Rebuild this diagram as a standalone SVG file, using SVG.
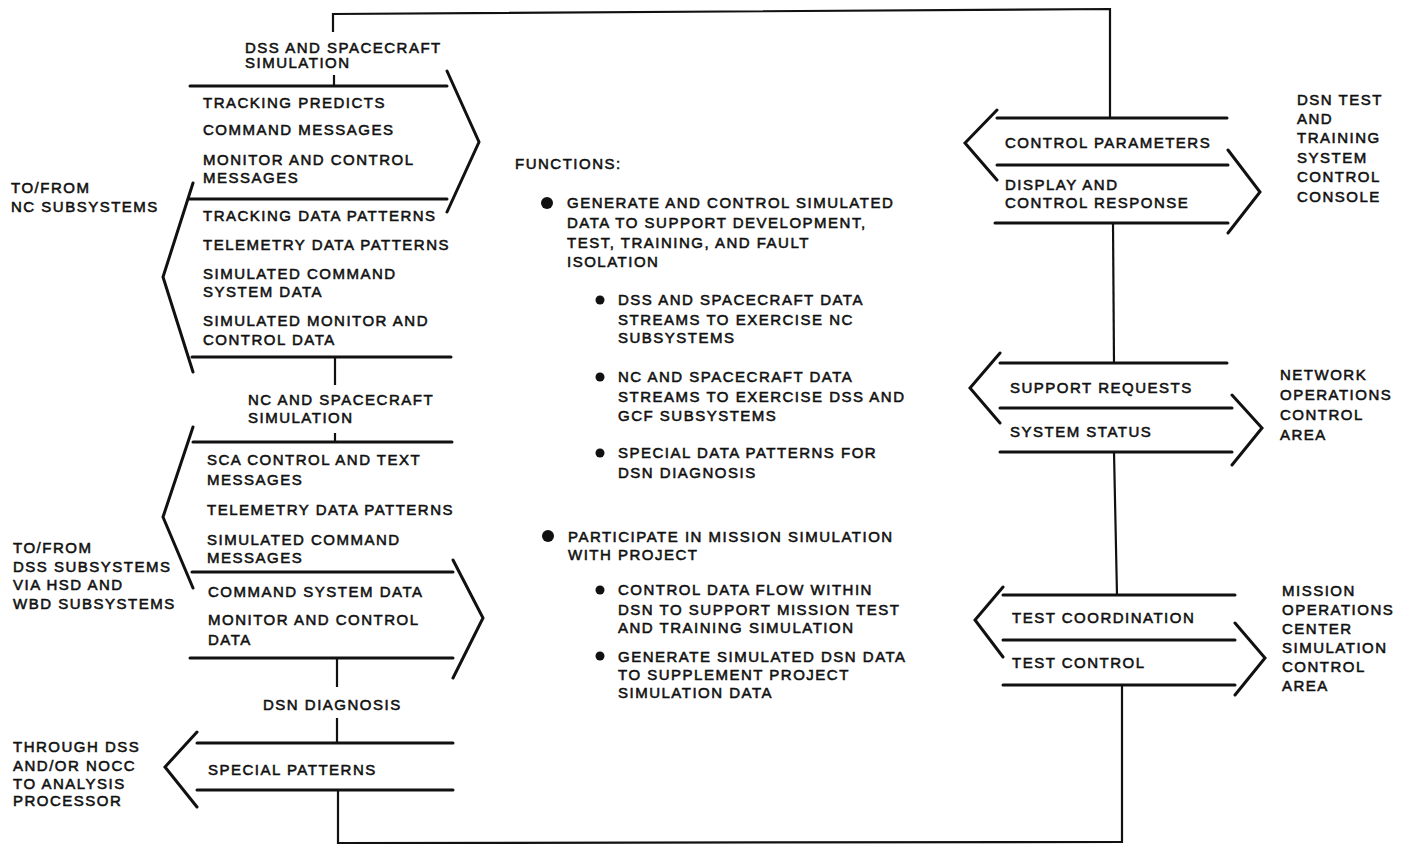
<svg xmlns="http://www.w3.org/2000/svg" width="1413" height="845" viewBox="0 0 1413 845">
<style>
text{font-family:"Liberation Sans",Arial,sans-serif;font-size:15px;letter-spacing:1.5px;fill:#111;stroke:#111;stroke-width:0.55px}
.ln{fill:none;stroke:#111;stroke-width:3;stroke-linecap:round;stroke-linejoin:miter}
.cn{fill:none;stroke:#111;stroke-width:2.2}
.dot{fill:#111}
</style>
<rect width="1413" height="845" fill="#fff"/>
<g id="connectors">
<path class="cn" d="M333,32 L333,14 L1110,9 L1110,118"/>
<path class="cn" d="M334,75 L334,86"/>
<path class="cn" d="M335,357 L335,385"/>
<path class="cn" d="M335,433 L335,442"/>
<path class="cn" d="M337,658 L337,687"/>
<path class="cn" d="M337,718 L337,743"/>
<path class="cn" d="M338,790 L338,843 L1122,842 L1122,685"/>
<path class="cn" d="M1113,223 L1114,363"/>
<path class="cn" d="M1114,452 L1117,595"/>
</g>
<g id="dss-spacecraft-simulation">
<text x="245" y="53">DSS AND SPACECRAFT</text>
<text x="245" y="68">SIMULATION</text>
<path class="ln" d="M190,86 L447,86 M447,71 L479,142 L447,212 M190,199 L447,199 M193,183 L163,277 L193,372 M192,357 L451,357"/>
<text x="203" y="108">TRACKING PREDICTS</text>
<text x="203" y="135">COMMAND MESSAGES</text>
<text x="203" y="165">MONITOR AND CONTROL</text>
<text x="203" y="183">MESSAGES</text>
<text x="203" y="221">TRACKING DATA PATTERNS</text>
<text x="203" y="250">TELEMETRY DATA PATTERNS</text>
<text x="203" y="279">SIMULATED COMMAND</text>
<text x="203" y="297">SYSTEM DATA</text>
<text x="203" y="326">SIMULATED MONITOR AND</text>
<text x="203" y="345">CONTROL DATA</text>
</g>
<g id="nc-spacecraft-simulation">
<text x="248" y="405">NC AND SPACECRAFT</text>
<text x="248" y="423">SIMULATION</text>
<path class="ln" d="M193,442 L452,442 M193,427 L163,517 L193,588 M192,572 L453,572 M453,560 L483,618 L453,678 M190,658 L453,658"/>
<text x="207" y="465">SCA CONTROL AND TEXT</text>
<text x="207" y="485">MESSAGES</text>
<text x="207" y="515">TELEMETRY DATA PATTERNS</text>
<text x="207" y="545">SIMULATED COMMAND</text>
<text x="207" y="563">MESSAGES</text>
<text x="208" y="597">COMMAND SYSTEM DATA</text>
<text x="208" y="625">MONITOR AND CONTROL</text>
<text x="208" y="645">DATA</text>
</g>
<g id="dsn-diagnosis">
<text x="263" y="710">DSN DIAGNOSIS</text>
<path class="ln" d="M197,743 L453,743 M197,732 L165,767 L197,807 M197,790 L453,790"/>
<text x="208" y="775">SPECIAL PATTERNS</text>
</g>
<g id="nc-subsystems">
<text x="11" y="193">TO/FROM</text>
<text x="11" y="212">NC SUBSYSTEMS</text>
</g>
<g id="dss-subsystems">
<text x="13" y="553">TO/FROM</text>
<text x="13" y="572">DSS SUBSYSTEMS</text>
<text x="13" y="590">VIA HSD AND</text>
<text x="13" y="609">WBD SUBSYSTEMS</text>
</g>
<g id="analysis-processor">
<text x="13" y="752">THROUGH DSS</text>
<text x="13" y="771">AND/OR NOCC</text>
<text x="13" y="789">TO ANALYSIS</text>
<text x="13" y="806">PROCESSOR</text>
</g>
<g id="functions">
<text x="515" y="169">FUNCTIONS:</text>
<circle class="dot" cx="547" cy="203" r="6"/>
<text x="567" y="208">GENERATE AND CONTROL SIMULATED</text>
<text x="567" y="228">DATA TO SUPPORT DEVELOPMENT,</text>
<text x="567" y="248">TEST, TRAINING, AND FAULT</text>
<text x="567" y="267">ISOLATION</text>
<circle class="dot" cx="600" cy="300" r="4.5"/>
<text x="618" y="305">DSS AND SPACECRAFT DATA</text>
<text x="618" y="325">STREAMS TO EXERCISE NC</text>
<text x="618" y="343">SUBSYSTEMS</text>
<circle class="dot" cx="600" cy="377" r="4.5"/>
<text x="618" y="382">NC AND SPACECRAFT DATA</text>
<text x="618" y="402">STREAMS TO EXERCISE DSS AND</text>
<text x="618" y="421">GCF SUBSYSTEMS</text>
<circle class="dot" cx="600" cy="453" r="4.5"/>
<text x="618" y="458">SPECIAL DATA PATTERNS FOR</text>
<text x="618" y="478">DSN DIAGNOSIS</text>
<circle class="dot" cx="548" cy="536" r="6"/>
<text x="568" y="542">PARTICIPATE IN MISSION SIMULATION</text>
<text x="568" y="560">WITH PROJECT</text>
<circle class="dot" cx="600" cy="590" r="4.5"/>
<text x="618" y="595">CONTROL DATA FLOW WITHIN</text>
<text x="618" y="615">DSN TO SUPPORT MISSION TEST</text>
<text x="618" y="633">AND TRAINING SIMULATION</text>
<circle class="dot" cx="600" cy="656" r="4.5"/>
<text x="618" y="662">GENERATE SIMULATED DSN DATA</text>
<text x="618" y="680">TO SUPPLEMENT PROJECT</text>
<text x="618" y="698">SIMULATION DATA</text>
</g>
<g id="test-training-console">
<path class="ln" d="M997,118 L1227,118 M997,110 L965,143 L997,180 M997,165 L1228,165 M1228,150 L1260,192 L1228,233 M995,223 L1228,223"/>
<text x="1005" y="148">CONTROL PARAMETERS</text>
<text x="1005" y="190">DISPLAY AND</text>
<text x="1005" y="208">CONTROL RESPONSE</text>
<text x="1297" y="105">DSN TEST</text>
<text x="1297" y="124">AND</text>
<text x="1297" y="143">TRAINING</text>
<text x="1297" y="163">SYSTEM</text>
<text x="1297" y="182">CONTROL</text>
<text x="1297" y="202">CONSOLE</text>
</g>
<g id="network-operations">
<path class="ln" d="M1000,363 L1227,363 M1000,353 L970,388 L1000,423 M1000,408 L1232,408 M1232,395 L1262,428 L1232,465 M1000,452 L1232,452"/>
<text x="1010" y="393">SUPPORT REQUESTS</text>
<text x="1010" y="437">SYSTEM STATUS</text>
<text x="1280" y="380">NETWORK</text>
<text x="1280" y="400">OPERATIONS</text>
<text x="1280" y="420">CONTROL</text>
<text x="1280" y="440">AREA</text>
</g>
<g id="mission-operations">
<path class="ln" d="M1003,595 L1235,595 M1003,587 L975,620 L1003,657 M1003,640 L1235,640 M1235,623 L1265,658 L1235,695 M1003,685 L1235,685"/>
<text x="1012" y="623">TEST COORDINATION</text>
<text x="1012" y="668">TEST CONTROL</text>
<text x="1282" y="596">MISSION</text>
<text x="1282" y="615">OPERATIONS</text>
<text x="1282" y="634">CENTER</text>
<text x="1282" y="653">SIMULATION</text>
<text x="1282" y="672">CONTROL</text>
<text x="1282" y="691">AREA</text>
</g>
</svg>
